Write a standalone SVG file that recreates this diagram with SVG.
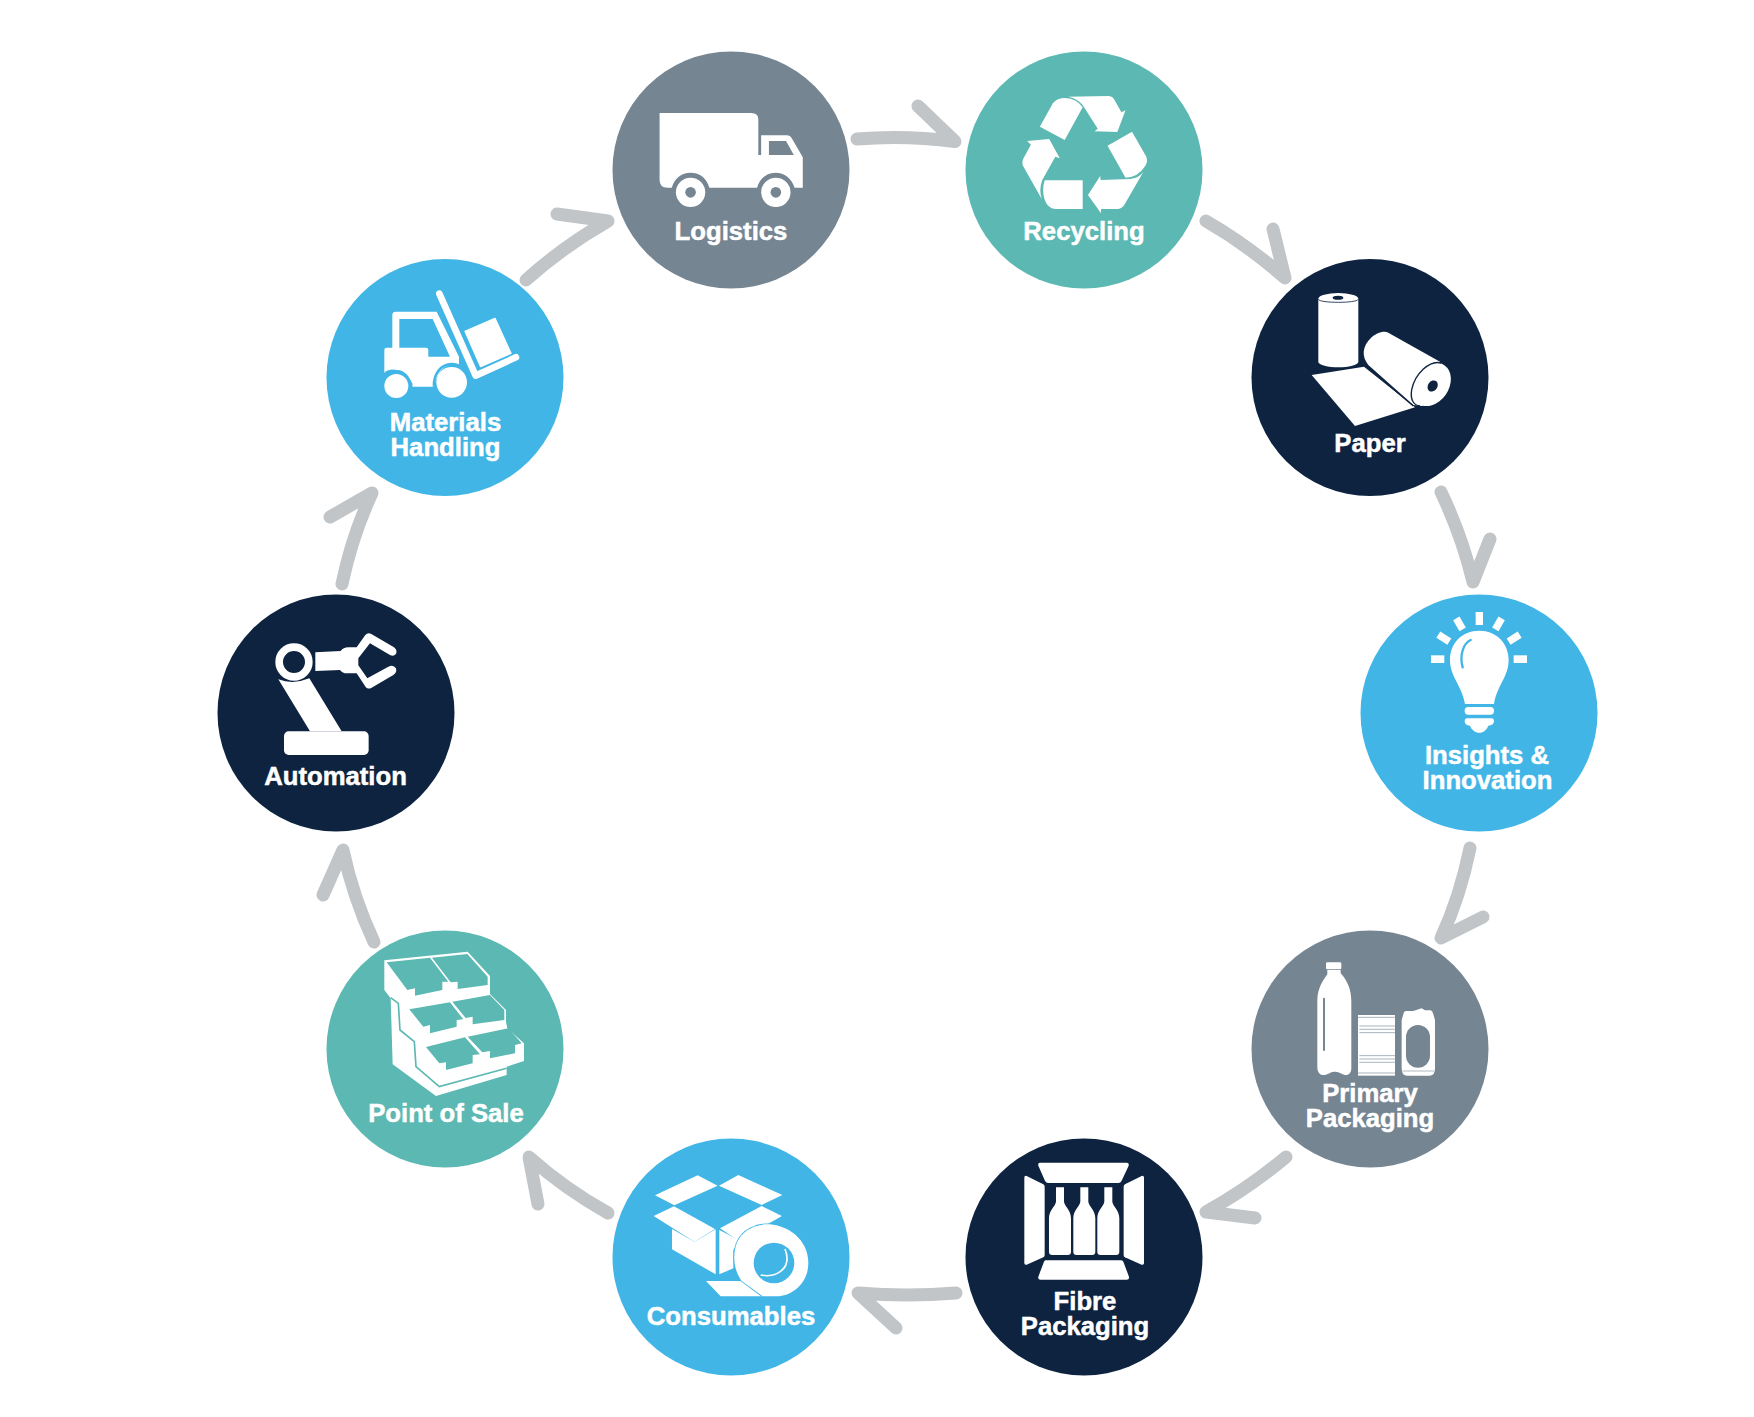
<svg xmlns="http://www.w3.org/2000/svg" width="1754" height="1417" viewBox="0 0 1754 1417">
<style>
.navy{fill:#0d2340}.gray{fill:#758592}.teal{fill:#5cb8b2}.blue{fill:#41b6e6}
.w{fill:#fff}
text{font-family:"Liberation Sans",Arial,sans-serif;font-weight:700;font-size:25.7px;fill:#fff;text-anchor:middle;stroke:#fff;stroke-width:.5}
.arrow{fill:none;stroke:#c1c5c8;stroke-width:13;stroke-linecap:round;stroke-linejoin:round}
</style>
<defs>
<path id="wine" d="M-12,157H12V200C14,215 33,225 33,250V350Q33,360 23,360H-23Q-33,360 -33,350V250C-33,225 -14,215 -12,200Z" fill="#fff"/>
</defs>
<rect width="1754" height="1417" fill="#fff"/>
<g id="connectors">
<path class="arrow" d="M857,139Q905,135 955,141.500L918,106"/>
<path class="arrow" d="M1206,221Q1249,246 1285,278L1273,229"/>
<path class="arrow" d="M1441,492Q1462,536 1473,582L1490,539"/>
<path class="arrow" d="M1470,848Q1460,897 1441,938L1483,917"/>
<path class="arrow" d="M1286,1157Q1249,1188 1206,1212L1255,1218"/>
<path class="arrow" d="M956,1293Q907,1297 858,1293L896,1328"/>
<path class="arrow" d="M608,1213Q565,1189 529,1157L538,1204"/>
<path class="arrow" d="M374,942Q353,897 343,850L323,895"/>
<path class="arrow" d="M342,584Q352,536 372,493L330,517"/>
<path class="arrow" d="M526,280Q564,246 608,221L557,214"/>
</g>
<g id="logistics">
<circle class="gray" cx="731" cy="170" r="118.500"/>
<g transform="translate(600,30) scale(.408,.3333)">
<path class="w" d="M146,249H370Q388,249 388,268V375H395V316H458Q466,316 470,325L497,382V473H477C470,445 452,428 430,428C408,428 392,445 385,473H268C262,445 245,428 222,428C200,428 182,445 176,473H165Q146,473 146,450Z"/>
<path class="gray" d="M414,333H456L475,375H414Z"/>
<ellipse class="w" cx="222" cy="487" rx="36" ry="44"/><ellipse class="gray" cx="222" cy="487" rx="13" ry="16"/>
<ellipse class="w" cx="431" cy="487" rx="36" ry="44"/><ellipse class="gray" cx="431" cy="487" rx="13" ry="16"/>
</g>
<text x="731" y="240">Logistics</text>
</g>
<g id="recycling">
<circle class="teal" cx="1084" cy="170" r="118.500"/>
<g transform="translate(600,30) scale(.408,.3333)" class="w">
<path d="M1078,290L1110,220Q1120,204 1140,204Q1170,206 1183,232L1139,330Z"/>
<path d="M1148,200L1245,198Q1255,198 1260,208L1278,247L1288,241L1268,306L1212,304L1220,296L1183,225Q1170,205 1148,200Z"/>
<path d="M1304,305L1339,380Q1344,395 1335,410Q1318,442 1288,443L1244,347Z"/>
<path d="M1332,425L1285,525Q1278,537 1268,537L1228,537L1228,550L1196,495L1226,438L1227,450L1300,447Q1322,443 1332,425Z"/>
<path d="M1183,451V537H1115Q1098,535 1090,510Q1082,480 1090,451Z"/>
<path d="M1083,508L1038,410Q1032,398 1038,385L1056,344L1047,333L1101,327L1127,385L1116,380L1084,450Q1075,480 1083,508Z"/>
</g>
<text x="1084" y="240">Recycling</text>
</g>
<g id="paper">
<circle class="navy" cx="1370" cy="377.500" r="118.500"/>
<g transform="translate(1240,250) scale(.3333)">
<path class="w" d="M235,148V336C235,345 265,352 295,352C325,352 355,345 355,336V148Z"/>
<ellipse class="w" cx="295" cy="146" rx="60" ry="17"/>
<path d="M235,148C240,160 350,160 355,148" fill="none" stroke="#0d2340" stroke-width="2.500"/>
<ellipse class="navy" cx="294" cy="143" rx="16" ry="6"/>
<path class="w" d="M215,375L372,350L525,472L345,528Z"/>
<path class="w" d="M445,248L600,335L590,450L545,468L520,465L385,345C365,320 365,290 395,262C415,245 435,243 445,248Z"/>
<path d="M378,347L520,468" stroke="#0d2340" stroke-width="4" fill="none"/>
<ellipse class="w" cx="573" cy="403" rx="54" ry="70" transform="rotate(35 573 403)"/>
<path d="M603,339C570,330 525,370 515,420C510,450 522,466 540,468" fill="none" stroke="#0d2340" stroke-width="4"/>
<ellipse class="navy" cx="578" cy="408" rx="14" ry="18" transform="rotate(35 578 408)"/>
</g>
<text x="1370" y="452">Paper</text>
</g>
<g id="insights">
<circle class="blue" cx="1479" cy="713" r="118.500"/>
<g transform="translate(1350,590) scale(.3333)">
<rect class="w" x="243" y="196" width="40" height="23"/><rect class="w" x="491" y="196" width="40" height="23"/><rect class="w" x="377" y="66" width="22" height="39"/>
<path d="M319,85L338,118M265,134L298,155M455,85L436,118M509,134L476,155" stroke="#fff" stroke-width="22" fill="none"/>
<path class="w" d="M388,122C335,122 300,160 300,210C300,260 335,285 345,342H432C442,285 476,260 476,210C476,160 440,122 388,122Z"/>
<path d="M362,150C340,160 328,195 338,232" fill="none" stroke="#41b6e6" stroke-width="7" stroke-linecap="round"/>
<rect class="w" x="344" y="351" width="88" height="23" rx="11"/>
<path class="w" d="M352,385H424Q432,385 432,395Q430,405 415,407C410,420 400,428 388,428C376,428 365,420 360,407Q345,405 344,395Q344,385 352,385Z"/>
</g>
<text x="1487" y="764">Insights &amp;</text>
<text x="1487.500" y="789">Innovation</text>
</g>
<g id="primary-packaging">
<circle class="gray" cx="1370" cy="1049" r="118.500"/>
<g transform="translate(1240,925) scale(.3333)">
<rect class="w" x="258" y="112" width="46" height="21" rx="4"/>
<path class="w" d="M262,135H302V145C320,165 334,190 334,230V430C334,445 325,452 315,450C300,445 295,440 283,440C270,440 265,450 250,450C238,450 232,440 232,425V225C232,190 250,165 262,148Z"/>
<rect class="gray" x="249" y="218" width="6" height="160" rx="3"/>
<rect class="w" x="354" y="270" width="111" height="182"/>
<path d="M354,277H465M358,303H465M358,313H465M358,323H465M358,392H465M358,402H465M358,412H465M354,444H465" stroke="#a9b4bc" stroke-width="3" fill="none"/>
<path class="w" d="M490,268Q491,258 500,258H520L545,250L555,256H572Q578,258 580,268L585,285V430Q585,452 570,452H500Q485,452 485,430V285Z"/>
<rect class="gray" x="498" y="300" width="72" height="128" rx="36"/>
<path d="M487,438H583" stroke="#c9d0d5" stroke-width="4" fill="none"/>
</g>
<text x="1370" y="1102">Primary</text>
<text x="1370" y="1127">Packaging</text>
</g>
<g id="fibre-packaging">
<circle class="navy" cx="1084" cy="1257" r="118.500"/>
<g transform="translate(960,1135) scale(.3333)" class="w">
<path d="M240,83H500Q508,83 506,92L485,137Q482,144 475,144H265Q258,144 255,137L235,92Q233,83 240,83Z"/>
<path d="M258,376H482Q488,376 490,380L507,425Q509,434 500,434H242Q233,434 235,425L252,380Q254,376 258,376Z"/>
<path d="M193,128Q193,121 200,123L250,148Q254,150 254,155V360Q254,365 250,367L200,389Q193,391 193,384Z"/>
<path d="M552,128Q552,121 545,123L495,148Q491,150 491,155V360Q491,365 495,367L545,389Q552,391 552,384Z"/>
<use href="#wine" x="300"/><use href="#wine" x="373"/><use href="#wine" x="445"/>
</g>
<text x="1085" y="1310">Fibre</text>
<text x="1085" y="1335">Packaging</text>
</g>
<g id="consumables">
<circle class="blue" cx="731" cy="1257" r="118.500"/>
<g transform="translate(600,1135) scale(.3333)">
<g class="w">
<path d="M165,181L293,121L353,152L223,211Z"/>
<path d="M357,152L415,120L547,180L485,210Z"/>
<path d="M161,243L222,214L345,282L283,320Z"/>
<path d="M360,280L485,213L546,243L480,280L420,320Z"/>
<path d="M216,282L283,320L347,283V418L216,343Z"/>
<path d="M358,285L418,316L400,345V400L358,418Z"/>
<path d="M318,438H425L488,478L530,484H362Z"/>
</g>
<path class="w" d="M425,438C405,410 395,370 410,325C425,285 470,265 510,268C560,272 625,310 625,385C625,445 575,484 530,484H488Z" stroke="#41b6e6" stroke-width="5" paint-order="stroke"/>
<circle class="blue" cx="522" cy="384" r="61"/>
<path d="M482,420C530,430 578,400 555,342" fill="none" stroke="#fff" stroke-width="5"/>
</g>
<text x="731" y="1325">Consumables</text>
</g>
<g id="point-of-sale">
<circle class="teal" cx="445" cy="1049" r="118.500"/>
<g transform="translate(320,925) scale(.3333)">
<path class="w" d="M193,106L443,80L510,153V207L558,255V290L562,310L612,355V408L560,425V450L348,513L218,418L212,220L193,195Z"/>
<path d="M212,218L235,235L240,315L283,350L288,425L358,485L560,430" fill="none" stroke="#5cb8b2" stroke-width="5"/>
<g class="teal">
<path d="M200,112L330,98L385,170H367V195L285,212V190L262,195Z"/>
<path d="M336,98L442,87L503,155V180L413,192V170L392,172Z"/>
<path d="M268,253L390,232L430,283L410,285V305L330,325V300L310,305Z"/>
<path d="M397,230L510,210L553,255V285L458,298V275L437,279Z"/>
<path d="M318,366L435,337L480,388L458,390V415L378,435V412L358,415Z"/>
<path d="M443,335L565,310L605,355L585,360V385L510,400V378L487,382Z"/>
</g>
</g>
<text x="446" y="1122">Point of Sale</text>
</g>
<g id="automation">
<circle class="navy" cx="336" cy="713" r="118.500"/>
<g transform="translate(210,590) scale(.3333)">
<circle cx="252" cy="216" r="44.500" fill="none" stroke="#fff" stroke-width="23"/>
<path class="w" d="M316,187L392,183Q400,172 415,172H440L466,135Q474,126 484,132L552,172Q563,180 558,192Q550,201 540,195L480,160L445,205V226L472,265L535,230Q550,222 558,235Q562,247 550,255L485,293Q474,299 467,291L440,250H410Q398,250 390,240L316,243Z"/>
<path class="w" d="M205,268Q250,285 298,265L395,424H300Z"/>
<rect class="w" x="222" y="424" width="254" height="71" rx="14"/>
</g>
<text x="335.500" y="785">Automation</text>
</g>
<g id="materials-handling">
<circle class="blue" cx="445" cy="377.500" r="118.500"/>
<g transform="translate(320,250) scale(.3333)">
<path d="M358,131L467,377L588,322" fill="none" stroke="#fff" stroke-width="20" stroke-linecap="round" stroke-linejoin="round"/>
<path class="w" d="M435,244L525,205L573,310L482,350Z" stroke="#fff" stroke-width="4" stroke-linejoin="round"/>
<path class="w" d="M193,300Q193,293 200,293H217V195Q217,185 228,185H350L417,320V345C395,340 360,340 342,410H278C270,375 250,358 228,360C210,360 200,365 193,372Z"/>
<path class="blue" d="M238,207H338L390,320H325V300Q325,293 318,293H238Z"/>
<circle cx="229" cy="408" r="36" class="w"/>
<circle cx="395" cy="397" r="46" class="w"/>
<path d="M342,410C340,370 365,342 395,342C405,342 415,345 420,350" fill="none" stroke="#41b6e6" stroke-width="8"/>
<path d="M193,374C205,360 250,350 275,405" fill="none" stroke="#41b6e6" stroke-width="8"/>
</g>
<text x="445.500" y="431">Materials</text>
<text x="445.500" y="456">Handling</text>
</g>
</svg>
